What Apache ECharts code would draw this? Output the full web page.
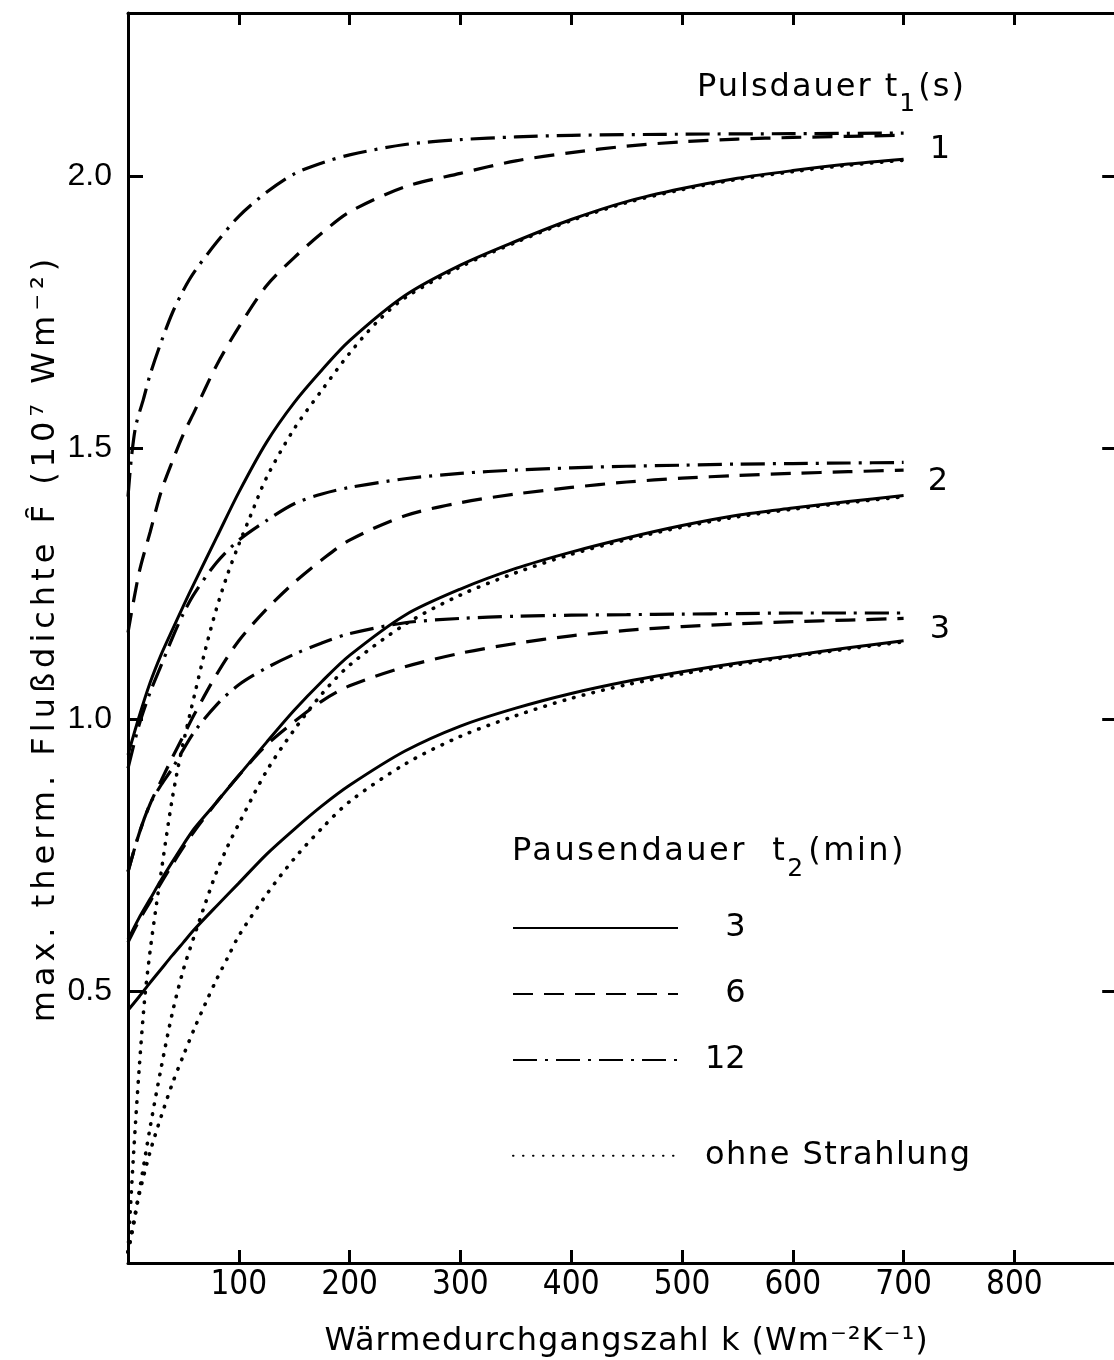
<!DOCTYPE html>
<html><head><meta charset="utf-8">
<script src="https://cdn.jsdelivr.net/npm/echarts/dist/echarts.min.js"></script>
<style>html,body{margin:0;padding:0;background:#fff}#c{width:1114px;height:1360px}</style>
</head><body><div id="c"></div>
<script>
// ---- data (k in W m^-2 K^-1, F in 10^7 W m^-2) ----
const kMain = [0,10,20,30,40,50,60,80,100,125,150,175,200,250,300,350,400,450,500,550,600,650,700];
const kDD1  = [0,3,7,14,20,30,40,50,60,80,100,125,150,175,200,250,300,350,400,500,600,700];
const kDot1 = [0,5,10,15,20,25,30,35,40,45,50,60,70,80,90,100,110,125,150,175,200,225,250,300,350,400,450,500,550,600,650,700];
const kDot2 = [0,10,20,30,40,50,60,70,80,90,100,125,150,175,200,250,300,350,400,450,500,550,600,650,700];
const kDot3 = [0,5,10,20,30,40,50,60,70,80,90,100,125,150,175,200,250,300,350,400,450,500,550,600,650,700];

// Pulsdauer t1 = 1 s
const solid1   = [0.935,1.005,1.068,1.12,1.165,1.209,1.252,1.335,1.418,1.51,1.583,1.643,1.697,1.78,1.836,1.88,1.92,1.953,1.977,1.996,2.01,2.022,2.031];
const dashed1  = [1.16,1.27,1.345,1.42,1.475,1.525,1.567,1.652,1.722,1.798,1.85,1.895,1.934,1.98,2.005,2.028,2.043,2.055,2.063,2.068,2.071,2.073,2.075];
const dashdot1 = [1.41,1.48,1.54,1.59,1.635,1.695,1.748,1.79,1.824,1.878,1.926,1.97,2.004,2.024,2.039,2.058,2.067,2.072,2.075,2.077,2.078,2.079];
const dotted1  = [0.02,0.2,0.355,0.485,0.575,0.65,0.72,0.79,0.855,0.91,0.958,1.045,1.13,1.205,1.268,1.322,1.372,1.445,1.535,1.606,1.674,1.732,1.776,1.833,1.878,1.918,1.951,1.975,1.994,2.008,2.02,2.029];

// Pulsdauer t1 = 2 s
const solid2   = [0.595,0.635,0.67,0.705,0.738,0.77,0.80,0.848,0.897,0.958,1.017,1.07,1.118,1.192,1.24,1.278,1.308,1.334,1.357,1.376,1.389,1.401,1.412];
const dashed2  = [0.72,0.79,0.845,0.888,0.93,0.97,1.01,1.083,1.145,1.203,1.252,1.294,1.33,1.375,1.399,1.415,1.427,1.437,1.444,1.449,1.453,1.456,1.459];
const dashdot2 = [0.91,0.99,1.05,1.1,1.15,1.195,1.232,1.289,1.33,1.366,1.397,1.415,1.427,1.443,1.453,1.459,1.463,1.466,1.468,1.47,1.471,1.472,1.473];
const dotted2  = [0.02,0.13,0.25,0.36,0.46,0.54,0.603,0.663,0.72,0.767,0.808,0.905,0.981,1.047,1.1,1.175,1.229,1.27,1.304,1.331,1.354,1.373,1.387,1.399,1.41];

// Pulsdauer t1 = 3 s
const solid3   = [0.465,0.49,0.516,0.541,0.566,0.59,0.614,0.657,0.699,0.752,0.798,0.841,0.879,0.942,0.988,1.021,1.048,1.07,1.088,1.104,1.118,1.132,1.145];
const dashed3  = [0.59,0.63,0.665,0.70,0.733,0.765,0.795,0.848,0.897,0.953,0.996,1.034,1.062,1.097,1.122,1.14,1.154,1.164,1.171,1.176,1.18,1.183,1.186];
const dashdot3 = [0.72,0.79,0.845,0.88,0.91,0.945,0.978,1.027,1.064,1.095,1.12,1.141,1.158,1.178,1.186,1.19,1.192,1.193,1.194,1.195,1.196,1.196,1.196];
const dotted3  = [0.02,0.07,0.125,0.205,0.27,0.33,0.382,0.432,0.478,0.522,0.562,0.602,0.678,0.744,0.8,0.849,0.918,0.969,1.007,1.039,1.064,1.084,1.101,1.116,1.13,1.143];

const xTicks = [100,200,300,400,500,600,700,800];
const yTicks = [0.5,1.0,1.5,2.0];
const legendNames = ['3','6','12','ohne Strahlung'];
const groupLabels = ['1','2','3'];

// letter spacing for text whose font family list carries a "lsN" marker
(function(){
  const P = CanvasRenderingContext2D.prototype;
  const d = Object.getOwnPropertyDescriptor(P, 'font');
  if (!d || !('letterSpacing' in P)) return;
  Object.defineProperty(P, 'font', {
    configurable:true,
    get(){ return d.get.call(this); },
    set(v){ d.set.call(this, v); const m = /"ls(\d+(?:\.\d+)?)"/.exec(v); this.letterSpacing = m ? m[1] + 'px' : '0px'; }
  });
})();
function fam(ls){ return '"DejaVu Sans", "ls' + ls + '"'; }

// ---- styles ----
const SOLID = 'solid', DASH = [20,11], DASHDOT = [24,8,3,8], DOT = [0.5,9.5];
function ser(name, ks, vs, type, width, cap) {
  return {
    type:'line', name, data: ks.map((k,i)=>[k, vs[i]]),
    symbol:'none', showSymbol:false, smooth:0.3,
    lineStyle:{color:'#000', width, type, cap: cap || 'butt'},
    itemStyle:{color:'#000'}, animation:false, silent:true
  };
}
const series = [
  ser('3', kMain, solid1, SOLID, 3), ser('6', kMain, dashed1, DASH, 3.2), ser('12', kDD1, dashdot1, DASHDOT, 3.2), ser('ohne Strahlung', kDot1, dotted1, DOT, 3.6, 'round'),
  ser('3', kMain, solid2, SOLID, 3), ser('6', kMain, dashed2, DASH, 3.2), ser('12', kMain, dashdot2, DASHDOT, 3.2), ser('ohne Strahlung', kDot2, dotted2, DOT, 3.6, 'round'),
  ser('3', kMain, solid3, SOLID, 3), ser('6', kMain, dashed3, DASH, 3.2), ser('12', kMain, dashdot3, DASHDOT, 3.2), ser('ohne Strahlung', kDot3, dotted3, DOT, 3.6, 'round')
];

const cv = document.createElement('canvas').getContext('2d');
function tw(s, size, ls){ cv.font = size + 'px ' + fam(ls); return cv.measureText(s).width; }

const X0 = 128, PX100 = 110.8, XMAX = 900;
const gridW = XMAX * PX100 / 100;

const pulsMain = 'Pulsdauer t', pulsX = 697, pulsY = 88;
const pauseMain = 'Pausendauer  t', pauseX = 512, pauseY = 852;

function txt(x, y, s, size, ls, align) {
  return {type:'text', x, y, silent:true, style:{text:s, fontFamily:fam(ls), fontSize:size, fill:'#000', textAlign:align||'left', textVerticalAlign:'middle'}};
}
const pw = tw(pulsMain, 32, 2), aw = tw(pauseMain, 32, 2.5);
const graphics = [
  txt(pulsX, pulsY, pulsMain, 32, 2),
  txt(pulsX + pw, pulsY + 16, '1', 25, 0),
  txt(pulsX + pw + tw('1',25,0) + 3, pulsY, '(s)', 32, 2),
  txt(pauseX, pauseY, pauseMain, 32, 2.5),
  txt(pauseX + aw, pauseY + 17, '2', 25, 0),
  txt(pauseX + aw + tw('2',25,0) + 5, pauseY, '(min)', 32, 2.5),
  txt(940, 150, groupLabels[0], 32, 0, 'center'),
  txt(938, 482, groupLabels[1], 32, 0, 'center'),
  txt(940, 630, groupLabels[2], 32, 0, 'center')
];

const axisLine = {show:true, onZero:false, lineStyle:{color:'#000', width:3}};
const legendCommon = {
  orient:'vertical', left:512, padding:0, itemWidth:165, itemHeight:36, selectedMode:false,
  itemStyle:{opacity:0, borderWidth:0}
};
const option = {
  backgroundColor:'#fff',
  animation:false,
  grid:{left:X0, top:13, width:gridW, height:1250, containLabel:false, outerBoundsMode:'none'},
  xAxis:[{
    type:'value', min:0, max:XMAX, interval:100, position:'bottom',
    axisLine, splitLine:{show:false},
    axisTick:{show:true, inside:true, length:13, lineStyle:{color:'#000', width:3}},
    axisLabel:{margin:6, color:'#000', fontFamily:'DejaVu Sans Condensed', fontSize:33,
      formatter: v => xTicks.includes(v) ? String(v) : ''},
    name:'Wärmedurchgangszahl k (Wm⁻²K⁻¹)', nameLocation:'middle', nameGap:62,
    nameTextStyle:{color:'#000', fontFamily:fam(1), fontSize:32}
  },{
    type:'value', min:0, max:XMAX, interval:100, position:'top',
    axisLine, splitLine:{show:false},
    axisTick:{show:true, inside:true, length:12, lineStyle:{color:'#000', width:3}},
    axisLabel:{show:false}
  }],
  yAxis:[{
    type:'value', min:0, max:2.3, interval:0.5, position:'left',
    axisLine, splitLine:{show:false},
    axisTick:{show:true, inside:true, length:15, lineStyle:{color:'#000', width:3}},
    axisLabel:{margin:16, color:'#000', fontFamily:'Liberation Sans', fontSize:32,
      formatter: v => yTicks.some(t=>Math.abs(t-v)<1e-9) ? v.toFixed(1) : ''},
    name:'max. therm. Flußdichte F\u0311 (10⁷ Wm⁻²)', nameLocation:'middle', nameGap:64, nameRotate:90,
    nameMoveOverlap:false,
    nameTextStyle:{color:'#000', fontFamily:fam(5), fontSize:32}
  },{
    type:'value', min:0, max:2.3, interval:0.5, position:'right',
    axisLine, splitLine:{show:false},
    axisTick:{show:true, inside:true, length:23, lineStyle:{color:'#000', width:3}},
    axisLabel:{show:false}
  }],
  legend:[Object.assign({}, legendCommon, {
    data: legendNames.slice(0,3), top:912, itemGap:34,
    textStyle:{fontFamily:fam(0), fontSize:32, color:'#000', padding:[0,0,0,22]},
    formatter: n => n.length === 1 ? '\u2007' + n : n
  }), Object.assign({}, legendCommon, {
    data: legendNames.slice(3), top:1139,
    textStyle:{fontFamily:fam(1.5), fontSize:32, color:'#000', padding:[0,0,0,22]}
  })],
  graphic: graphics,
  series
};
const chart = echarts.init(document.getElementById('c'), null, {renderer:'canvas'});
chart.setOption(option);
</script></body></html>
